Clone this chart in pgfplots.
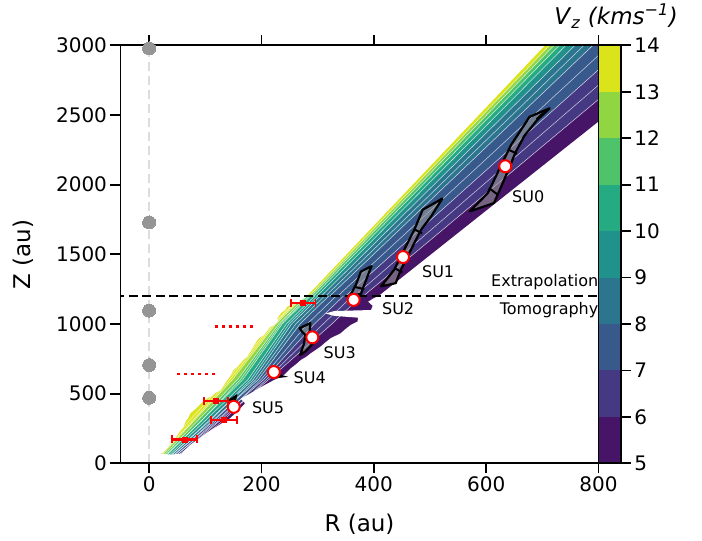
\documentclass[border=0pt]{standalone}
\usepackage{fontspec}
\setmainfont{DejaVu Sans}
\usepackage{pgfplots}
\pgfplotsset{compat=1.18}
\definecolor{v5}{HTML}{471567}
\definecolor{v6}{HTML}{443982}
\definecolor{v7}{HTML}{38598C}
\definecolor{v8}{HTML}{2B758E}
\definecolor{v9}{HTML}{21918C}
\definecolor{v10}{HTML}{25AB82}
\definecolor{v11}{HTML}{4FC36A}
\definecolor{v12}{HTML}{90D643}
\definecolor{v13}{HTML}{DBE31A}
\definecolor{dotgray}{HTML}{959595}
\definecolor{lgray}{HTML}{DCDCDC}
\pgfplotsset{wl/.style={white, line width=0.55pt, opacity=0.7}}
\begin{document}
\begin{tikzpicture}
\useasboundingbox (-120.5pt,-77.7pt) rectangle (581.5pt,463.3pt);
\begin{axis}[
  name=main,
  at={(0pt,0pt)}, anchor=south west,
  width=478pt, height=418pt, scale only axis,
  xmin=-51, xmax=800, ymin=0, ymax=3000,
  xtick={0,200,400,600,800}, ytick={0,500,1000,1500,2000,2500,3000},
  tick align=outside, major tick length=10pt,
  tick style={black, line width=1.8pt},
  axis line style={line width=1.8pt},
  tick label style={font=\fontsize{20}{24}\selectfont},
  /pgf/number format/assume math mode=true,
  /pgf/number format/1000 sep={},
  xlabel={R (au)}, ylabel={Z (au)},
  label style={font=\fontsize{23}{27}\selectfont},
  xlabel style={at={(axis description cs:0.5,-0.145)}, anchor=center},
  ylabel style={at={(axis description cs:-0.204,0.5)}, anchor=center},
  axis on top,
]
% ---- lower (tomography) bands ----
\addplot[fill=v13, draw=none] coordinates {(-150,0) (8.9,0) (148.2,600) (225.4,1000) (275.5,1200) (100,1200)} -- cycle;
\addplot[fill=v12, draw=none] coordinates {(8.9,0) (148.2,600) (225.4,1000) (275.5,1200) (281,1200) (230.8,1000) (157.4,600) (12.8,0)} -- cycle;
\addplot[fill=v11, draw=none] coordinates {(12.8,0) (157.4,600) (230.8,1000) (281,1200) (287.3,1200) (236.9,1000) (166.7,600) (16.7,0)} -- cycle;
\addplot[fill=v10, draw=none] coordinates {(16.7,0) (166.7,600) (236.9,1000) (287.3,1200) (294.8,1200) (244.3,1000) (175.9,600) (20.6,0)} -- cycle;
\addplot[fill=v9, draw=none] coordinates {(20.6,0) (175.9,600) (244.3,1000) (294.8,1200) (304.5,1200) (253.8,1000) (185.1,600) (24.4,0)} -- cycle;
\addplot[fill=v8, draw=none] coordinates {(24.4,0) (185.1,600) (253.8,1000) (304.5,1200) (319.7,1200) (268.6,1000) (194.3,600) (28.3,0)} -- cycle;
\addplot[fill=v7, draw=none] coordinates {(28.3,0) (194.3,600) (268.6,1000) (319.7,1200) (345.9,1200) (294.3,1000) (203.6,600) (32.2,0)} -- cycle;
\addplot[fill=v6, draw=none] coordinates {(32.2,0) (203.6,600) (294.3,1000) (345.9,1200) (377.6,1200) (325.3,1000) (212.8,600) (36.1,0)} -- cycle;
\addplot[fill=v5, draw=none] coordinates {(36.1,0) (212.8,600) (325.3,1000) (377.6,1200) (700,1200) (400,0)} -- cycle;
% white contour lines (lower)
\addplot[wl] coordinates {(5,0) (70,300) (139,600) (220,1000) (270,1200)};
\addplot[wl] coordinates {(6.9,0) (76,300) (143.6,600) (222.7,1000) (272.8,1200)};
\addplot[wl] coordinates {(8.9,0) (148.2,600) (225.4,1000) (275.5,1200)};
\addplot[wl] coordinates {(12.8,0) (157.4,600) (230.8,1000) (281,1200)};
\addplot[wl] coordinates {(14.7,0) (92,300) (162.1,600) (233.9,1000) (284.2,1200)};
\addplot[wl] coordinates {(16.7,0) (166.7,600) (236.9,1000) (287.3,1200)};
\addplot[wl] coordinates {(20.6,0) (175.9,600) (244.3,1000) (294.8,1200)};
\addplot[wl] coordinates {(22.5,0) (107,300) (180.5,600) (249,1000) (299.6,1200)};
\addplot[wl] coordinates {(24.4,0) (185.1,600) (253.8,1000) (304.5,1200)};
\addplot[wl] coordinates {(26.4,0) (114,300) (189.7,600) (261.2,1000) (312.1,1200)};
\addplot[wl] coordinates {(28.3,0) (194.3,600) (268.6,1000) (319.7,1200)};
\addplot[wl] coordinates {(30.2,0) (122,300) (199,600) (281.5,1000) (332.8,1200)};
\addplot[wl] coordinates {(32.2,0) (203.6,600) (294.3,1000) (345.9,1200)};
\addplot[wl] coordinates {(34.1,0) (130,300) (208.2,600) (309.8,1000) (361.8,1200)};
\addplot[wl] coordinates {(36.1,0) (212.8,600) (325.3,1000) (377.6,1200)};
% masks outside the tomography outline
\addplot[fill=white, draw=none] coordinates {(-100,-50) (-100,1200) (281,1200) (272,1175) (264,1150) (256,1143) (246,1125) (242,1100) (235,1080) (228,1041) (230,1020) (222,993) (214,975) (210,950) (204,921) (196,900) (192,880) (189,861) (184,830) (180,800) (174.5,765) (168,745) (162,720) (157,693) (150,670) (146,640) (139,597) (134,570) (127,525) (118,505) (110,480) (103,465) (95,440) (85,400) (73,358) (70,330) (65,300) (61,261) (56,240) (50,200) (43.5,165) (38,140) (32,110) (25.6,81) (19.6,69) (19.6,-50)} -- cycle;
\addplot[fill=white, draw=none] coordinates {(10,-50) (19.6,69) (40,62) (58,70) (73,131) (85,165) (97,203) (108,233) (120,263) (132,293) (144,323) (152,353) (159,383) (165,405) (171,431) (163,462) (175,490) (186,515) (196,540) (205,560) (212,575) (222,597) (232,615) (240,633) (247,660) (252,681) (262,712) (270,741) (280,765) (287.5,789) (296,812) (305,837) (314,868) (323,897) (332,915) (341,933) (350,965) (359,993) (371,1017) (372,1045) (330,1058) (314,1075) (330,1093) (395,1100) (398,1130) (390,1160) (400,1185) (408,1200) (900,1200) (900,-50)} -- cycle;
% ---- upper (extrapolation) bands ----
\addplot[fill=v13, draw=none] coordinates {(281,1200) (284.8,1200) (713.0,3000) (705,3000)} -- cycle;
\addplot[fill=v12, draw=none] coordinates {(284.8,1200) (288.6,1200) (721.0,3000) (713.0,3000)} -- cycle;
\addplot[fill=v11, draw=none] coordinates {(288.6,1200) (293.1,1200) (730.3,3000) (721.0,3000)} -- cycle;
\addplot[fill=v10, draw=none] coordinates {(293.1,1200) (298.8,1200) (742.2,3000) (730.3,3000)} -- cycle;
\addplot[fill=v9, draw=none] coordinates {(298.8,1200) (306.4,1200) (758.2,3000) (742.2,3000)} -- cycle;
\addplot[fill=v8, draw=none] coordinates {(306.4,1200) (321.6,1200) (790.1,3000) (758.2,3000)} -- cycle;
\addplot[fill=v7, draw=none] coordinates {(321.6,1200) (349.6,1200) (848.6,3000) (790.1,3000)} -- cycle;
\addplot[fill=v6, draw=none] coordinates {(349.6,1200) (381.3,1200) (915.1,3000) (848.6,3000)} -- cycle;
\addplot[fill=v5, draw=none] coordinates {(381.3,1200) (408,1200) (971,3000) (915.1,3000)} -- cycle;
% white contour lines (upper)
\addplot[wl] coordinates {(284.8,1200) (713.0,3000)};
\addplot[wl] coordinates {(288.6,1200) (721.0,3000)};
\addplot[wl] coordinates {(293.1,1200) (730.3,3000)};
\addplot[wl] coordinates {(298.8,1200) (742.2,3000)};
\addplot[wl] coordinates {(306.4,1200) (758.2,3000)};
\addplot[wl] coordinates {(314.0,1200) (774.2,3000)};
\addplot[wl] coordinates {(321.6,1200) (790.1,3000)};
\addplot[wl] coordinates {(335.6,1200) (819.4,3000)};
\addplot[wl] coordinates {(349.6,1200) (848.6,3000)};
\addplot[wl] coordinates {(365.5,1200) (881.9,3000)};
\addplot[wl] coordinates {(381.3,1200) (915.1,3000)};
% ---- R = 0 guide and grey points ----
\addplot[lgray, line width=2.6pt, dash pattern=on 9pt off 5pt] coordinates {(0,0) (0,3000)};
\addplot[only marks, mark=*, mark size=6.5pt, mark options={fill=dotgray, draw=dotgray, line width=0pt}] coordinates {(0,2978) (0,1729) (0,1096) (0,705) (0,470)};
% ---- boundary line ----
\addplot[black, line width=2.6pt, dash pattern=on 9pt off 4.5pt] coordinates {(-60,1200) (810,1200)};
% ---- SU shapes ----
\addplot[draw=black, line width=2.2pt, line join=round, fill={rgb,255:red,150;green,150;blue,150}, fill opacity=0.6] coordinates {(713,2548) (677,2486) (660,2380) (645,2290) (631,2175) (615,2040) (603,1940) (571,1808) (614,1868) (627,1988) (640,2110) (652,2230) (668,2350) (690,2460) (713,2548)} -- cycle;
\addplot[black, line width=2pt] coordinates {(640,2250) (655,2222)};
\addplot[black, line width=2pt] coordinates {(605,1975) (620,1930)};
\addplot[black, line width=2pt] coordinates {(690,2470) (702,2515)};
\addplot[draw=black, line width=2.2pt, line join=round, fill={rgb,255:red,150;green,150;blue,150}, fill opacity=0.6] coordinates {(522,1900) (487,1820) (472,1676) (454,1532) (436,1388) (413,1270) (439,1293) (448,1388) (466,1532) (484,1676) (502,1772) (522,1900)} -- cycle;
\addplot[black, line width=2pt] coordinates {(437,1400) (451,1370)};
\addplot[black, line width=2pt] coordinates {(472,1680) (486,1650)};
\addplot[draw=black, line width=2.2pt, line join=round, fill={rgb,255:red,150;green,150;blue,150}, fill opacity=0.6] coordinates {(396,1415) (377,1376) (368,1281) (358,1205) (377,1215) (383,1281) (392,1376) (396,1415)} -- cycle;
\addplot[black, line width=2pt] coordinates {(367,1265) (383,1250)};
\addplot[draw=black, line width=2.2pt, line join=round, fill={rgb,255:red,150;green,150;blue,150}, fill opacity=0.6] coordinates {(268,970) (287,1006) (285,920) (292,862) (278,802) (269,778) (276,862) (278,922) (272,945)} -- cycle;
\addplot[fill=black, draw=black, line width=1pt] coordinates {(222,645) (243,622) (222,612)} -- cycle;
\addplot[fill=black, draw=black, line width=1pt] coordinates {(141,452) (156,491) (153,435)} -- cycle;
% ---- red dotted lines ----
\addplot[red, line width=2.5pt, dash pattern=on 2.5pt off 4.5pt] coordinates {(118,981) (189,981)};
\addplot[red, line width=2.5pt, dash pattern=on 2.5pt off 4.5pt] coordinates {(50,640) (121,640)};
% ---- red error bars ----
\addplot[red, only marks, mark=square*, mark size=2.5pt,
  error bars/.cd, x dir=both, x explicit,
  error bar style={line width=2.2pt, red},
  error mark options={rotate=90, mark size=4pt, line width=1.8pt, red}]
  coordinates {(274,1153) +- (22,0) (119,446) +- (22,0) (133,310) +- (23,0) (62.5,171) +- (22,0)};
% ---- SU markers ----
\addplot[only marks, mark=*, mark size=6pt, mark options={fill=white, draw=red, line width=2pt}] coordinates {(634,2132) (452,1480) (364,1173) (290.5,904) (222,655) (150.6,405)};
% ---- text ----
\node[anchor=base west, inner sep=0pt, font=\fontsize{16}{19}\selectfont] at (axis cs:646,1872) {SU0};
\node[anchor=base west, inner sep=0pt, font=\fontsize{16}{19}\selectfont] at (axis cs:485.6,1336) {SU1};
\node[anchor=base west, inner sep=0pt, font=\fontsize{16}{19}\selectfont] at (axis cs:414.4,1065) {SU2};
\node[anchor=base west, inner sep=0pt, font=\fontsize{16}{19}\selectfont] at (axis cs:310.4,754) {SU3};
\node[anchor=base west, inner sep=0pt, font=\fontsize{16}{19}\selectfont] at (axis cs:257,570) {SU4};
\node[anchor=base west, inner sep=0pt, font=\fontsize{16}{19}\selectfont] at (axis cs:182.9,359) {SU5};
\node[anchor=base east, inner sep=0pt, font=\fontsize{16}{19}\selectfont] at (axis cs:800,1269) {Extrapolation};
\node[anchor=base east, inner sep=0pt, font=\fontsize{16}{19}\selectfont] at (axis cs:800,1065) {Tomography};
\end{axis}
\begin{axis}[
  at={(478pt,0pt)}, anchor=south west,
  width=22.3pt, height=418pt, scale only axis,
  xmin=0, xmax=1, ymin=5, ymax=14,
  xtick=\empty, ytick={5,6,7,8,9,10,11,12,13,14},
  ytick pos=right, yticklabel pos=right,
  tick align=outside, major tick length=10pt,
  tick style={black, line width=1.8pt},
  axis line style={line width=1.8pt},
  tick label style={font=\fontsize{20}{24}\selectfont},
  /pgf/number format/assume math mode=true,
  axis on top,
  title={\textit{V}\textsubscript{\textit{z}} \textit{(kms\textsuperscript{−1})}},
  every axis title/.style={at={(0.79,1)}, anchor=base, yshift=21pt, inner sep=0pt, font=\fontsize{23}{27}\selectfont},
]
\addplot[fill=v5, draw=none] coordinates {(0,5) (1,5) (1,6) (0,6)} -- cycle;
\addplot[fill=v6, draw=none] coordinates {(0,6) (1,6) (1,7) (0,7)} -- cycle;
\addplot[fill=v7, draw=none] coordinates {(0,7) (1,7) (1,8) (0,8)} -- cycle;
\addplot[fill=v8, draw=none] coordinates {(0,8) (1,8) (1,9) (0,9)} -- cycle;
\addplot[fill=v9, draw=none] coordinates {(0,9) (1,9) (1,10) (0,10)} -- cycle;
\addplot[fill=v10, draw=none] coordinates {(0,10) (1,10) (1,11) (0,11)} -- cycle;
\addplot[fill=v11, draw=none] coordinates {(0,11) (1,11) (1,12) (0,12)} -- cycle;
\addplot[fill=v12, draw=none] coordinates {(0,12) (1,12) (1,13) (0,13)} -- cycle;
\addplot[fill=v13, draw=none] coordinates {(0,13) (1,13) (1,14) (0,14)} -- cycle;
\end{axis}
\end{tikzpicture}
\end{document}
